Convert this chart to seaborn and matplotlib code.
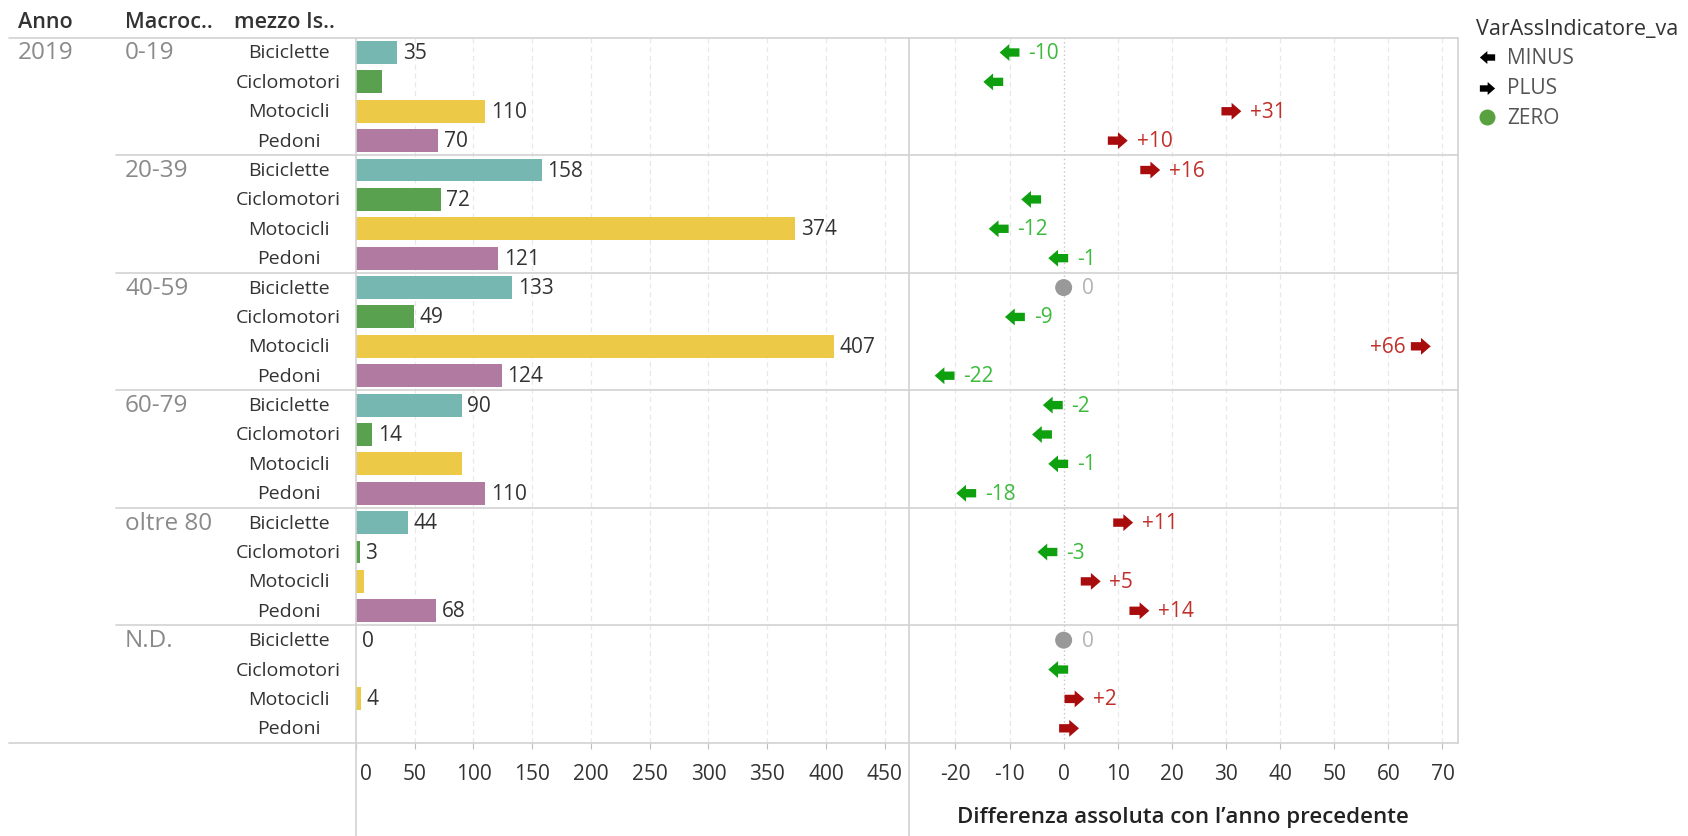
import numpy as np
import pandas as pd
import matplotlib
matplotlib.use("Agg")
import matplotlib.pyplot as plt
import seaborn as sns
from matplotlib.path import Path
from matplotlib.lines import Line2D
from matplotlib.transforms import blended_transform_factory, ScaledTranslation

# ---------------- data ----------------
anno = "2019"
fasce = ["0-19", "20-39", "40-59", "60-79", "oltre 80", "N.D."]
mezzi = ["Biciclette", "Ciclomotori", "Motocicli", "Pedoni"]
valori = [35, 22, 110, 70,
          158, 72, 374, 121,
          133, 49, 407, 124,
          90, 14, 90, 110,
          44, 3, 7, 68,
          0, np.nan, 4, np.nan]
mostra_valore = [True, False, True, True,
                 True, True, True, True,
                 True, True, True, True,
                 True, True, False, True,
                 True, True, False, True,
                 True, False, True, False]
differenze = [-10, -13, 31, 10,
              16, -6, -12, -1,
              0, -9, 66, -22,
              -2, -4, -1, -18,
              11, -3, 5, 14,
              0, -1, 2, 1]
mostra_diff = [True, False, True, True,
               True, False, True, True,
               True, True, True, True,
               True, False, True, True,
               True, True, True, True,
               True, False, True, False]
ticks_sx = [0, 50, 100, 150, 200, 250, 300, 350, 400, 450]
ticks_dx = [-20, -10, 0, 10, 20, 30, 40, 50, 60, 70]
intestazioni = ["Anno", "Macroc..", "mezzo Is.."]
legenda_titolo = "VarAssIndicatore_va"
legenda_voci = ["MINUS", "PLUS", "ZERO"]
titolo_asse = "Differenza assoluta con l\u2019anno precedente"

colori_mezzi = {"Biciclette": "#76b7b2", "Ciclomotori": "#59a14f",
                "Motocicli": "#edc948", "Pedoni": "#b07aa1"}
colori_dir = {"MINUS": "#0fa00f", "PLUS": "#a80c0c", "ZERO": "#999999"}
colori_testo_dir = {"MINUS": "#3cba3c", "PLUS": "#c0302a", "ZERO": "#b4b4b4"}
colori_legenda = ["black", "black", "#59a03f"]

# ---------------- frame ----------------
rows = []
for i, f in enumerate(fasce):
    for j, m in enumerate(mezzi):
        k = i * 4 + j
        d = differenze[k]
        rows.append(dict(fascia=f, mezzo=m, riga=f"{f}|{m}", pos=k,
                         valore=valori[k], diff=d,
                         dir="MINUS" if d < 0 else ("PLUS" if d > 0 else "ZERO")))
df = pd.DataFrame(rows)
n = len(df)

W, H, DPI = 1688, 837, 100
sns.set_theme(style="white")
FONT = ["Open Sans", "Noto Sans", "DejaVu Sans"]
plt.rcParams["font.family"] = FONT
fig = plt.figure(figsize=(W / DPI, H / DPI), dpi=DPI)

def fx(px):
    return px / W

def fy(py):
    return 1 - py / H

top_px, bot_px = 38.8, 744.0
x0_px, xdiv_px, xend_px = 356.0, 908.6, 1457.6
axl = fig.add_axes([fx(x0_px), fy(bot_px), fx(xdiv_px - x0_px), (bot_px - top_px) / H])
axr = fig.add_axes([fx(xdiv_px), fy(bot_px), fx(xend_px - xdiv_px), (bot_px - top_px) / H])

GRID = "#e8e8e8"
LINE = "#d2d2d2"
TXT = "#333333"

# ---------------- left: bars ----------------
sns.barplot(data=df, x="valore", y="riga", hue="mezzo", order=df["riga"].tolist(),
            hue_order=mezzi, palette=colori_mezzi, dodge=False, width=0.78,
            orient="h", ax=axl, legend=False, saturation=1, linewidth=0)
axl.set_xlim(0, 470.3)
axl.set_ylim(n - 0.5, -0.5)
for t in ticks_sx[1:]:
    axl.axvline(t, color=GRID, lw=0.9, ls=(0, (4, 3)), zorder=0)
for k, r in df.iterrows():
    if mostra_valore[k] and not np.isnan(r["valore"]):
        axl.annotate(f"{int(r['valore'])}", (r["valore"], r["pos"]), xytext=(4, 0),
                     textcoords="offset points", va="center", ha="left",
                     fontsize=15, color=TXT)

# ---------------- right: arrows ----------------
def arrow_path(sign):
    v = [(-1, -0.42), (0.02, -0.42), (0.02, -0.85), (1, 0), (0.02, 0.85),
         (0.02, 0.42), (-1, 0.42), (-1, -0.42)]
    v = [(sign * x, y) for x, y in v]
    return Path(v, [Path.MOVETO] + [Path.LINETO] * 6 + [Path.CLOSEPOLY])

freccia_sx = arrow_path(-1)
freccia_dx = arrow_path(1)
sns.scatterplot(data=df, x="diff", y="pos", hue="dir", style="dir", size="dir",
                hue_order=legenda_voci, style_order=legenda_voci, size_order=legenda_voci,
                markers={"MINUS": freccia_sx, "PLUS": freccia_dx, "ZERO": "o"},
                sizes={"MINUS": 205, "PLUS": 205, "ZERO": 150},
                palette=colori_dir, linewidth=0, legend=False, ax=axr, zorder=3)
axr.set_xlim(-28.65, 72.8)
axr.set_ylim(n - 0.5, -0.5)
for t in ticks_dx:
    if t == 0:
        axr.axvline(0, color="#c4c4c4", lw=1.0, ls=(0, (1, 2)), zorder=0)
    else:
        axr.axvline(t, color=GRID, lw=0.9, ls=(0, (4, 3)), zorder=0)
for k, r in df.iterrows():
    if not mostra_diff[k]:
        continue
    d = r["diff"]
    s = f"+{d}" if d > 0 else f"{d}"
    c = colori_testo_dir[r["dir"]]
    if d > 60:
        axr.annotate(s, (d, r["pos"]), xytext=(-11, 0), textcoords="offset points",
                     va="center", ha="right", fontsize=15, color=c)
    else:
        axr.annotate(s, (d, r["pos"]), xytext=(13.5, 0), textcoords="offset points",
                     va="center", ha="left", fontsize=15, color=c)

# ---------------- axes styling ----------------
for ax, ticks in ((axl, ticks_sx), (axr, ticks_dx)):
    for sp in ax.spines.values():
        sp.set_visible(False)
    ax.set_yticks([])
    ax.set_ylabel("")
    ax.set_xticks(ticks)
    ax.set_xticklabels([str(t) for t in ticks])
    ax.tick_params(axis="x", bottom=True, length=4, width=0.8, color="#bdbdbd",
                   pad=10.5, labelsize=15, labelcolor=TXT)
    ax.patch.set_alpha(0)
axl.set_xlabel("")
axr.set_xlabel(titolo_asse, fontsize=16, fontweight="semibold", color="#222222", va="center")
axr.xaxis.set_label_coords(0.5, -(818 - bot_px) / (bot_px - top_px))
lab0 = axl.get_xticklabels()[0]
lab0.set_transform(lab0.get_transform() + ScaledTranslation(7 / 72, 0, fig.dpi_scale_trans))

# ---------------- table lines ----------------
def fline(xa, xb, ya, yb):
    fig.add_artist(Line2D([fx(xa), fx(xb)], [fy(ya), fy(yb)], color=LINE, lw=1.2,
                          transform=fig.transFigure, zorder=5))

fline(9, xend_px, top_px, top_px)
fline(9, xend_px, bot_px, bot_px)
fline(x0_px, x0_px, top_px, H)
fline(xdiv_px, xdiv_px, top_px, H)
fline(xend_px, xend_px, top_px, bot_px)
tr_rows = blended_transform_factory(fig.transFigure, axl.transData)
for i in range(1, len(fasce)):
    fig.add_artist(Line2D([fx(116), fx(xend_px)], [i * 4 - 0.5] * 2, color=LINE, lw=1.2,
                          transform=tr_rows, zorder=5))

# ---------------- header and row labels ----------------
for txt, xp in zip(intestazioni, [18, 125, 234]):
    fig.text(fx(xp), fy(22), txt, fontsize=15.5, fontweight="semibold", color=TXT, va="center")
fig.text(fx(18), 0, anno, transform=tr_rows, fontsize=17.5, color="#8a8a8a", va="center")
for i, f in enumerate(fasce):
    fig.text(fx(125), i * 4, f, transform=tr_rows, fontsize=17.5, color="#8a8a8a", va="center")
for k, r in df.iterrows():
    fig.text(fx(288.6), r["pos"], r["mezzo"], transform=tr_rows, fontsize=14,
             color=TXT, va="center", ha="center")

# ---------------- legend ----------------
fig.text(fx(1476), fy(30), legenda_titolo, fontsize=15.5, color=TXT, va="center")
for voce, mk, col, yp, ms in zip(legenda_voci, [freccia_sx, freccia_dx, "o"],
                                  colori_legenda, [58, 89, 118], [11, 11, 11.5]):
    fig.add_artist(Line2D([fx(1487)], [fy(yp)], ls="", marker=mk, color=col,
                          markersize=ms, markeredgewidth=0, transform=fig.transFigure))
    fig.text(fx(1507), fy(yp), voce, fontsize=15, color="#555555", va="center")

fig.savefig("out.png", dpi=DPI)
